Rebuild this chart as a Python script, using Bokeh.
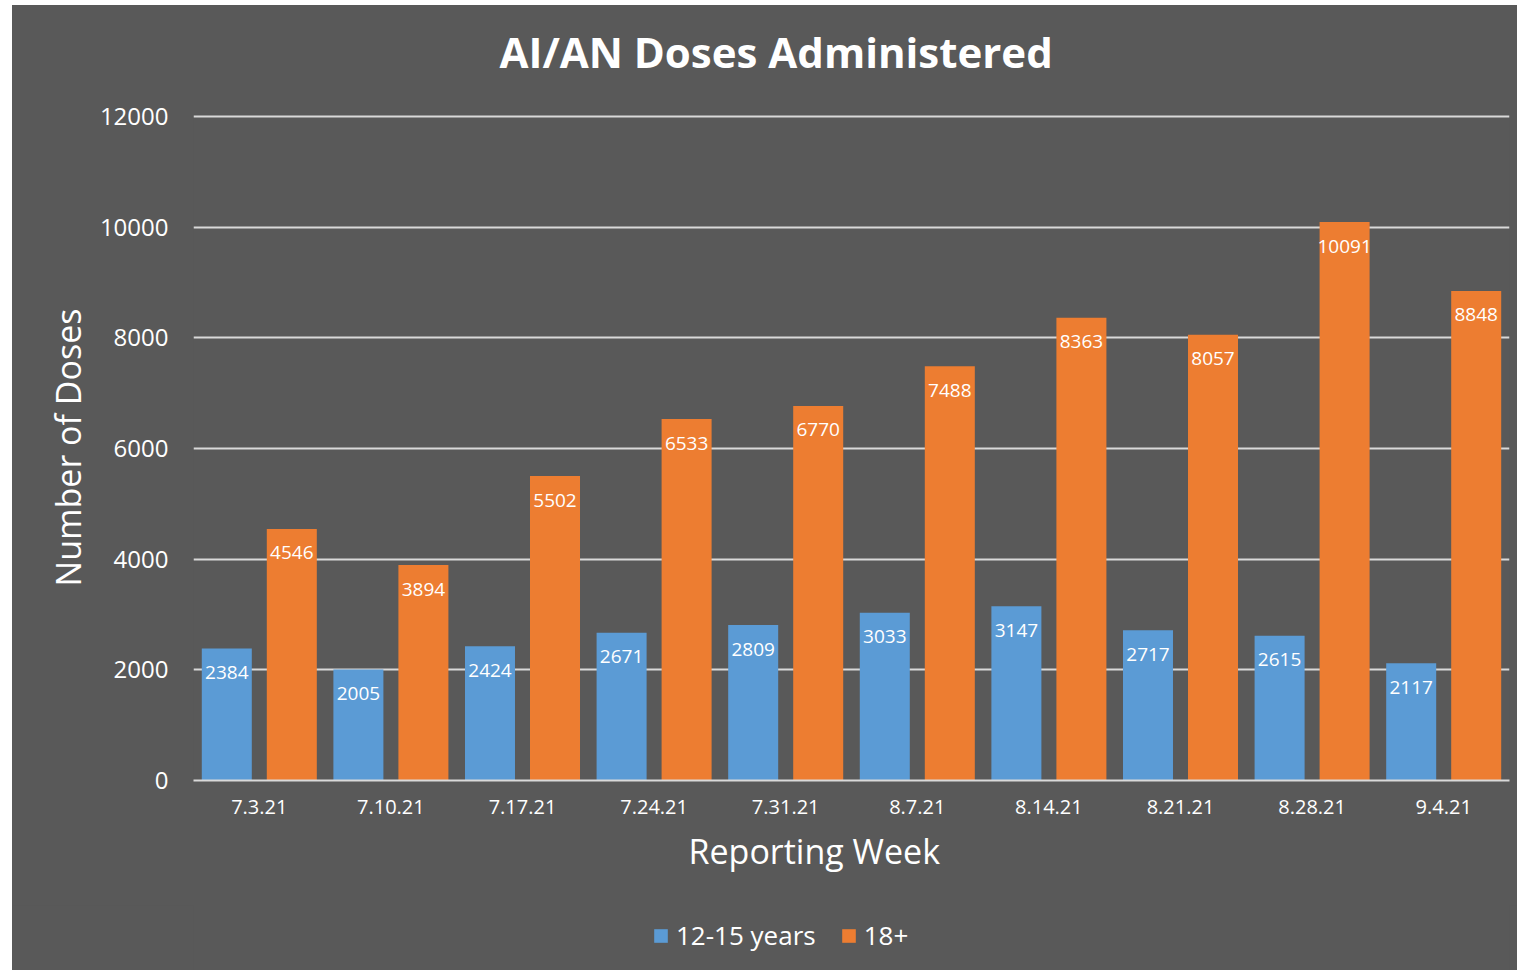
from bokeh.plotting import figure
from bokeh.layouts import column
from bokeh.models import (FactorRange, ColumnDataSource, LabelSet, Legend, LegendItem,
                          Title, FixedTicker)
from bokeh.core.properties import value
from bokeh.transform import dodge
from bokeh.embed import file_html
from bokeh.resources import INLINE

weeks = ["7.3.21", "7.10.21", "7.17.21", "7.24.21", "7.31.21",
         "8.7.21", "8.14.21", "8.21.21", "8.28.21", "9.4.21"]
teens = [2384, 2005, 2424, 2671, 2809, 3033, 3147, 2717, 2615, 2117]
adults = [4546, 3894, 5502, 6533, 6770, 7488, 8363, 8057, 10091, 8848]
y_ticks = [0, 2000, 4000, 6000, 8000, 10000, 12000]
series_names = ["12-15 years", "18+"]

BG = "#595959"
BLUE = "#5B9BD5"
ORANGE = "#ED7D31"
GRID = "#D9D9D9"
FONT = "Open Sans"

src = ColumnDataSource(dict(
    weeks=weeks, teens=teens, adults=adults,
    tlab=[str(v) for v in teens], alab=[str(v) for v in adults]))

# y range runs a hair past 12000 so the top grid line is not clipped at the frame edge
p = figure(x_range=FactorRange(*weeks, range_padding=0), y_range=(0, 12036),
           width=1505, height=900, output_backend="svg", toolbar_location=None,
           frame_width=1316, frame_height=666,
           min_border_left=181, min_border_right=8, min_border_top=109,
           min_border_bottom=125)
p.background_fill_color = None
p.border_fill_color = BG
p.outline_line_color = None

bw = 0.38
r1 = p.vbar(x=dodge("weeks", -0.247, range=p.x_range), top="teens", width=bw,
            source=src, fill_color=BLUE, line_color=None)
r2 = p.vbar(x=dodge("weeks", 0.247, range=p.x_range), top="adults", width=bw,
            source=src, fill_color=ORANGE, line_color=None)

for col, lab, dx in (("teens", "tlab", -0.247), ("adults", "alab", 0.247)):
    ls = LabelSet(x=dodge("weeks", dx, range=p.x_range), y=col, text=lab,
                  source=src, y_offset=-24, text_align="center",
                  text_baseline="middle", text_color="white",
                  text_font=value(FONT), text_font_size="19px")
    p.add_layout(ls)

# grid
p.xgrid.visible = False
p.ygrid.grid_line_color = GRID
p.ygrid.grid_line_width = 2
p.ygrid.ticker = FixedTicker(ticks=y_ticks)

# y axis
p.yaxis.ticker = FixedTicker(ticks=y_ticks)
p.yaxis.axis_line_color = None
p.yaxis.major_tick_line_color = None
p.yaxis.minor_tick_line_color = None
p.yaxis.major_label_text_color = "white"
p.yaxis.major_label_text_font = FONT
p.yaxis.major_label_text_font_size = "24px"
p.yaxis.major_label_standoff = 19
p.yaxis.axis_label = "Number of Doses"
p.yaxis.axis_label_text_color = "white"
p.yaxis.axis_label_text_font = FONT
p.yaxis.axis_label_text_font_size = "34px"
p.yaxis.axis_label_text_font_style = "normal"
p.yaxis.axis_label_standoff = 6

# x axis
p.xaxis.axis_line_color = GRID
p.xaxis.axis_line_width = 2
p.xaxis.major_tick_line_color = None
p.xaxis.minor_tick_line_color = None
p.xaxis.major_label_text_color = "white"
p.xaxis.major_label_text_font = FONT
p.xaxis.major_label_text_font_size = "20px"
p.xaxis.major_label_standoff = 13

# title (spacer title keeps it higher above the frame)
spacer = Title(text=" ", text_font_size="2px", standoff=26, text_color=BG)
p.add_layout(spacer, "above")
p.title.text = "AI/AN Doses Administered"
p.title.align = "left"
p.title.offset = 306
p.title.text_color = "white"
p.title.text_font = FONT
p.title.text_font_size = "42px"
p.title.text_font_style = "bold"
p.title.standoff = 10

xlab = Title(text="Reporting Week", align="left", offset=495,
             text_color="white", text_font=FONT, text_font_size="34px",
             text_font_style="normal", standoff=18)
p.add_layout(xlab, "below")

# legend strip
p2 = figure(width=1505, height=65, output_backend="svg", toolbar_location=None,
            x_range=(0, 1), y_range=(0, 1), min_border=0)
p2.background_fill_color = None
p2.border_fill_color = BG
p2.outline_line_color = None
p2.axis.visible = False
p2.grid.visible = False
hidden = ColumnDataSource(dict(x=[-10], top=[-10]))
g1 = p2.vbar(x="x", top="top", width=0.1, source=hidden, fill_color=BLUE, line_color=None)
g2 = p2.vbar(x="x", top="top", width=0.1, source=hidden, fill_color=ORANGE, line_color=None)
legend = Legend(items=[LegendItem(label=series_names[0], renderers=[g1]),
                       LegendItem(label=series_names[1], renderers=[g2])],
                orientation="horizontal", location=(459, 17),
                background_fill_alpha=0, border_line_color=None,
                label_text_color="white", label_text_font=FONT,
                label_text_font_size="26px", glyph_width=17, glyph_height=17,
                label_standoff=7, spacing=24, margin=0, padding=6)
p2.add_layout(legend, "center")

layout = column(p, p2, spacing=0, margin=(5, 0, 0, 12),
                styles={"background-color": BG})

open("out.html", "w").write(file_html(layout, INLINE))
